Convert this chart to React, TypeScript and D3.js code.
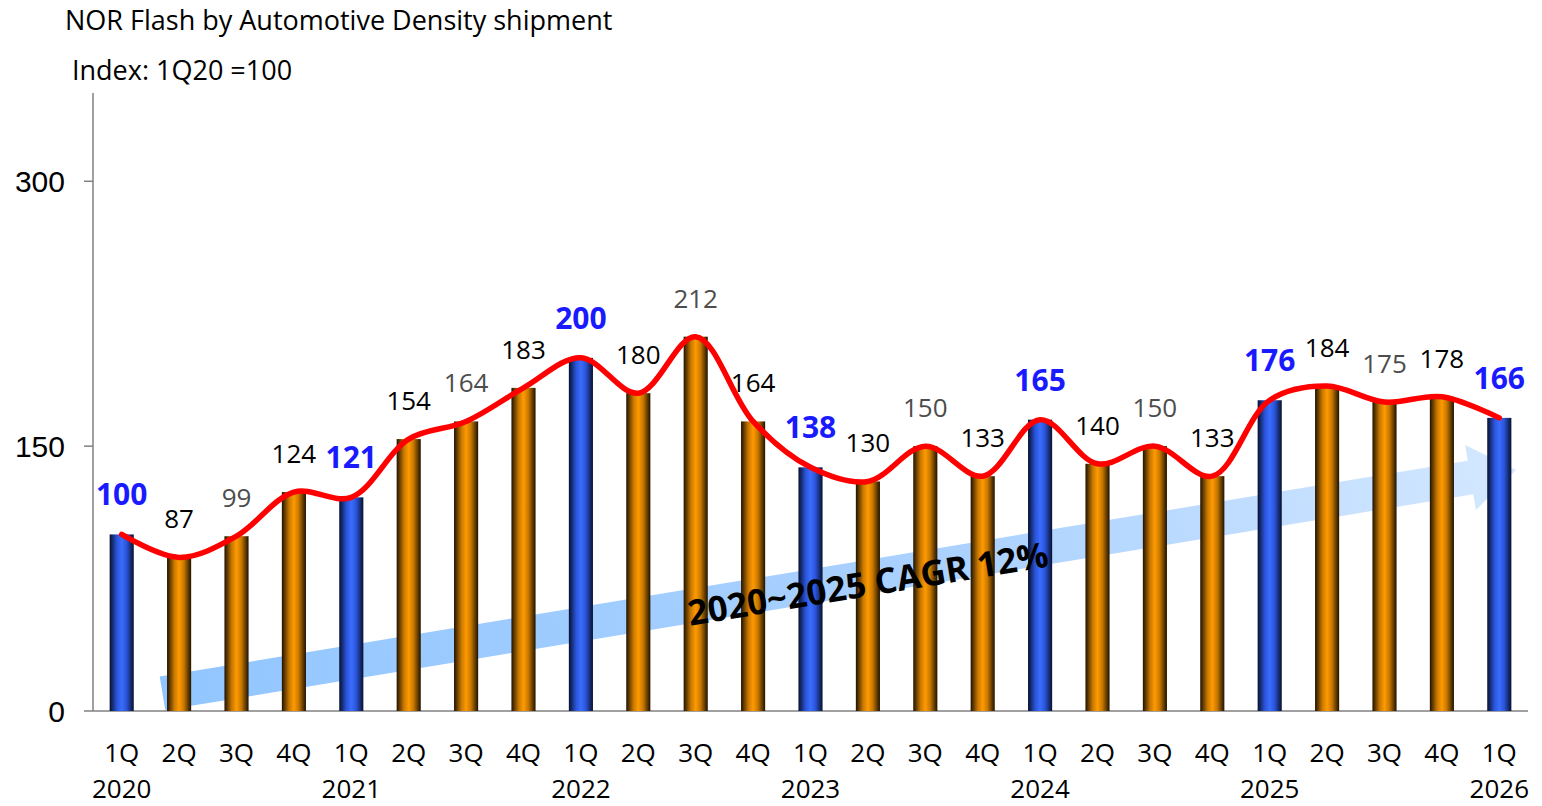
import React, { useEffect, useRef } from 'react';
import * as d3 from 'd3';

const quarters = ['1Q','2Q','3Q','4Q','1Q','2Q','3Q','4Q','1Q','2Q','3Q','4Q','1Q','2Q','3Q','4Q','1Q','2Q','3Q','4Q','1Q','2Q','3Q','4Q','1Q'];
const years = ['2020','','','','2021','','','','2022','','','','2023','','','','2024','','','','2025','','','','2026'];
const values = [100, 87, 99, 124, 121, 154, 164, 183, 200, 180, 212, 164, 138, 130, 150, 133, 165, 140, 150, 133, 176, 184, 175, 178, 166];
const yTicks = [0, 150, 300];
const title = 'NOR Flash by Automotive Density shipment';
const subtitle = 'Index: 1Q20 =100';
const cagrText = '2020~2025 CAGR 12%';
// arrow from / to, in (bar index, value) units
const arrowFrom = [0.71, 10];
const arrowTo = [24.29, 136.5];

const App = () => {
  const ref = useRef<SVGSVGElement>(null);

  useEffect(() => {
    const W = 1542, H = 806;
    const left = 93, right = 1528, top = 93, bottom = 711;

    const svg = d3.select(ref.current);
    svg.selectAll('*').remove();
    svg.attr('width', W).attr('height', H);

    const font = "'Open Sans', Lato, sans-serif";

    const x = d3.scaleBand<number>()
      .domain(d3.range(values.length))
      .range([left, right])
      .paddingInner(0.58)
      .paddingOuter(0.29);
    const y = d3.scaleLinear().domain([0, 350]).range([bottom, top]);
    const cx = (i: number) => (x(0) as number) + x.bandwidth() / 2 + i * x.step();

    // gradients
    const defs = svg.append('defs');
    const mk = (id: string, dark: string, mid: string, bright: string) => {
      const g = defs.append('linearGradient').attr('id', id)
        .attr('x1', '0%').attr('x2', '100%').attr('y1', '0%').attr('y2', '0%');
      [[0, dark], [0.3, mid], [0.5, bright], [0.7, mid], [1, dark]].forEach(([o, c]) =>
        g.append('stop').attr('offset', o as number).attr('stop-color', c as string));
    };
    mk('gOrange', '#1f1200', '#c87800', '#ff9a00');
    mk('gBlue', '#08102e', '#2a55d8', '#3a6cff');
    const ag = defs.append('linearGradient').attr('id', 'gArrow')
      .attr('x1', '0%').attr('x2', '100%').attr('y1', '0%').attr('y2', '0%');
    ag.append('stop').attr('offset', 0).attr('stop-color', '#92c6ff');
    ag.append('stop').attr('offset', 0.6).attr('stop-color', '#acd2ff');
    ag.append('stop').attr('offset', 1).attr('stop-color', '#d4e8ff');

    // CAGR arrow
    const x0 = cx(arrowFrom[0]), y0 = y(arrowFrom[1]);
    const x1 = cx(arrowTo[0]), y1 = y(arrowTo[1]);
    const len = Math.hypot(x1 - x0, y1 - y0);
    const ang = Math.atan2(y1 - y0, x1 - x0) * 180 / Math.PI;
    const half = 17, headLen = 46, headHalf = 33;
    const arrow = svg.append('g').attr('transform', `translate(${x0},${y0}) rotate(${ang})`);
    arrow.append('path')
      .attr('d', `M0,${-half} L${len - headLen},${-half} L${len - headLen},${-headHalf} L${len},0 L${len - headLen},${headHalf} L${len - headLen},${half} L0,${half} Z`)
      .attr('fill', 'url(#gArrow)');

    // axes
    svg.append('line').attr('x1', left).attr('x2', left).attr('y1', top).attr('y2', bottom)
      .attr('stroke', '#808080').attr('stroke-width', 1.5);
    svg.append('line').attr('x1', left).attr('x2', right).attr('y1', bottom).attr('y2', bottom)
      .attr('stroke', '#808080').attr('stroke-width', 1.5);
    yTicks.forEach(t => {
      svg.append('line').attr('x1', left - 9).attr('x2', left).attr('y1', y(t)).attr('y2', y(t))
        .attr('stroke', '#808080').attr('stroke-width', 1.5);
      svg.append('text').attr('x', 65).attr('y', y(t)).attr('dy', '0.36em')
        .attr('text-anchor', 'end').attr('font-family', "'Liberation Sans', Arial, sans-serif")
        .attr('font-size', 30).attr('fill', '#000').text(t);
    });

    // bars
    svg.selectAll('rect.bar').data(values).enter().append('rect')
      .attr('class', 'bar')
      .attr('x', (_, i) => x(i) as number)
      .attr('width', x.bandwidth())
      .attr('y', d => y(d))
      .attr('height', d => bottom - y(d))
      .attr('fill', (_, i) => quarters[i] === '1Q' ? 'url(#gBlue)' : 'url(#gOrange)');

    // CAGR text
    const mx = cx(13.0), my = y(72);
    svg.append('text')
      .attr('transform', `translate(${mx},${my}) rotate(${ang})`)
      .attr('text-anchor', 'middle').attr('dy', '0.35em')
      .attr('font-family', font).attr('font-weight', 'bold').attr('font-size', 35)
      .attr('fill', '#000').text(cagrText);

    // red smooth line
    const line = d3.line<number>()
      .x((_, i) => cx(i))
      .y(d => y(d))
      .curve(d3.curveCatmullRom.alpha(0.5));
    svg.append('path').attr('d', line(values))
      .attr('fill', 'none').attr('stroke', '#ff0000').attr('stroke-width', 5.5)
      .attr('stroke-linecap', 'round');

    // value labels
    values.forEach((v, i) => {
      const q = quarters[i];
      svg.append('text')
        .attr('x', cx(i)).attr('y', y(v) - 29)
        .attr('text-anchor', 'middle')
        .attr('font-family', font)
        .attr('font-size', q === '1Q' ? 30 : 26)
        .attr('font-weight', q === '1Q' ? 'bold' : 'normal')
        .attr('fill', q === '1Q' ? '#1a1aff' : q === '3Q' ? '#4d4d4d' : '#000')
        .text(v);
    });

    // x labels
    quarters.forEach((q, i) => {
      svg.append('text').attr('x', cx(i)).attr('y', 762)
        .attr('text-anchor', 'middle').attr('font-family', font)
        .attr('font-size', 26).attr('fill', '#000').text(q);
      if (years[i]) {
        svg.append('text').attr('x', cx(i)).attr('y', 798)
          .attr('text-anchor', 'middle').attr('font-family', font)
          .attr('font-size', 26).attr('fill', '#000').text(years[i]);
      }
    });

    // titles
    svg.append('text').attr('x', 65).attr('y', 30).attr('font-family', font)
      .attr('font-size', 27).attr('fill', '#000').text(title);
    svg.append('text').attr('x', 72).attr('y', 80).attr('font-family', font)
      .attr('font-size', 27).attr('fill', '#000').text(subtitle);
  }, []);

  return (
    <svg ref={ref} style={{ position: 'absolute', left: 0, top: 0, background: '#fff' }} />
  );
};

export default App;
